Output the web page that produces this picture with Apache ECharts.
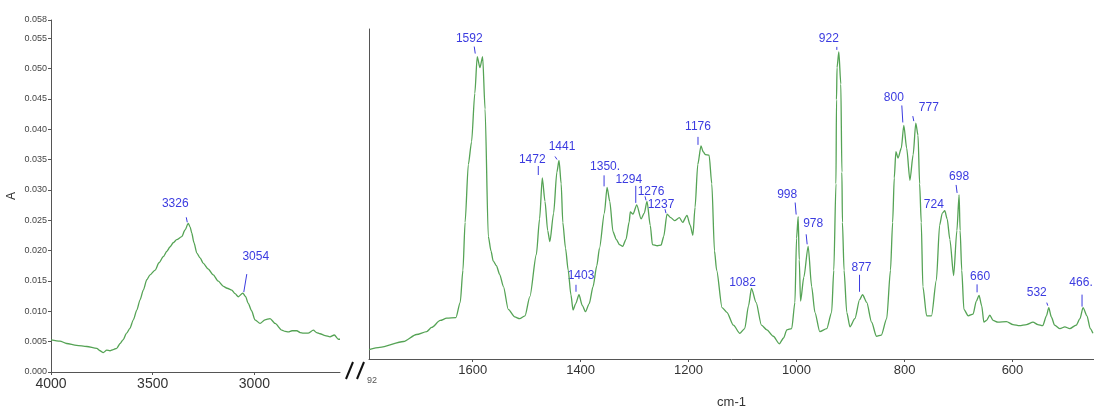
<!DOCTYPE html>
<html><head><meta charset="utf-8">
<script src="https://cdn.jsdelivr.net/npm/echarts@6/dist/echarts.min.js"></script>
<style>html,body{margin:0;padding:0;background:#fff}#c{width:1094px;height:414px}</style>
</head><body><div id="c"></div>
<script>
// ---- data ----
const leftWn = [4000,3956,3923,3874,3824,3775,3759,3743,3726,3710,3694,3677,3660,3646,3628,3612,3595,3578,3562,3546,3529,3513,3488,3469,3448,3430,3415,3399,3382,3357,3341,3325,3316,3308,3297,3283,3267,3251,3228,3202,3179,3152,3134,3111,3095,3079,3057,3043,3030,3014,2997,2972,2948,2923,2898,2865,2849,2833,2815,2791,2775,2759,2736,2710,2694,2677,2652,2628,2607,2587,2579];
const leftAbs = [0.0053,0.0051,0.0047,0.0044,0.0042,0.0039,0.0035,0.0032,0.0036,0.0035,0.0037,0.0039,0.0047,0.0053,0.0064,0.0072,0.0086,0.0102,0.0119,0.0135,0.0152,0.0160,0.0168,0.0180,0.0190,0.0199,0.0206,0.0213,0.0218,0.0223,0.0234,0.0245,0.0239,0.0229,0.0213,0.0196,0.0188,0.0179,0.0170,0.0160,0.0150,0.0141,0.0138,0.0135,0.0129,0.0124,0.0130,0.0124,0.0113,0.0101,0.0086,0.0080,0.0086,0.0088,0.0080,0.0069,0.0067,0.0066,0.0068,0.0068,0.0065,0.0064,0.0064,0.0069,0.0065,0.0063,0.0060,0.0058,0.0061,0.0054,0.0054];

const rightWn = [1792,1772,1728,1704,1685,1676,1660,1648,1631,1623,1618,1614,1608,1602,1596,1591.5,1586.5,1581.5,1577,1571,1566,1562,1556,1550,1543,1534,1522,1513,1503,1494,1482,1476,1471,1466,1461,1457,1450,1444,1440,1436,1433,1428,1423,1418,1414,1409,1403,1397,1391,1384,1377,1370,1365,1356,1351,1346,1340,1334,1328,1322,1316,1310,1308,1303,1296,1288,1282,1277,1271,1267,1258,1251,1246,1240,1233,1226,1217,1211,1203,1197,1192,1188,1183,1177,1173,1169,1162,1157,1152,1148,1138,1129,1117,1105,1096,1089,1083.5,1075,1065,1055,1043,1032,1024,1018,1009,1003,1000,997,995,992.6,986.5,978.5,972,966,957,944,935,931,927,926,925,921.7,918,916,915,912,907,901,892,883,877.8,870,861,852,843,833,826,822,819,816,812,806,801.3,796,790,784,779.1,775,772,769,766,759,750,741,735,730,725.4,721,716,709,703,698.9,697,694,690,682,673,667,661.9,657,653,648,642,636,627,611,599,587,574,562,553,544,537,532.8,528,522,512,503,494,482,475,469.3,462,456,451];
const rightAbs = [0.0016,0.0020,0.0030,0.0042,0.0047,0.0054,0.0066,0.0070,0.0071,0.0097,0.0152,0.0234,0.0333,0.0372,0.0455,0.0518,0.0499,0.0518,0.0428,0.0210,0.0185,0.0168,0.0160,0.0145,0.0124,0.0085,0.0072,0.0069,0.0074,0.0107,0.0179,0.0240,0.0310,0.0270,0.0220,0.0201,0.0250,0.0320,0.0340,0.0300,0.0234,0.0190,0.0152,0.0110,0.0084,0.0095,0.0110,0.0092,0.0081,0.0095,0.0124,0.0160,0.0190,0.0250,0.0294,0.0270,0.0218,0.0205,0.0196,0.0193,0.0205,0.0235,0.0252,0.0248,0.0264,0.0240,0.0250,0.0270,0.0229,0.0196,0.0194,0.0195,0.0210,0.0248,0.0242,0.0237,0.0242,0.0234,0.0246,0.0229,0.0212,0.0260,0.0333,0.0365,0.0355,0.0350,0.0349,0.0300,0.0185,0.0152,0.0088,0.0080,0.0058,0.0044,0.0052,0.0091,0.0121,0.0097,0.0058,0.0050,0.0039,0.0026,0.0036,0.0050,0.0052,0.0097,0.0207,0.0244,0.0170,0.0099,0.0140,0.0193,0.0124,0.0080,0.0047,0.0052,0.0080,0.0152,0.0300,0.0444,0.0499,0.0526,0.0471,0.0320,0.0234,0.0152,0.0080,0.0055,0.0069,0.0102,0.0110,0.0097,0.0063,0.0039,0.0041,0.0069,0.0152,0.0234,0.0310,0.0355,0.0344,0.0361,0.0400,0.0361,0.0306,0.0350,0.0404,0.0383,0.0300,0.0234,0.0124,0.0074,0.0074,0.0135,0.0229,0.0250,0.0254,0.0240,0.0205,0.0143,0.0220,0.0281,0.0220,0.0152,0.0085,0.0074,0.0077,0.0099,0.0109,0.0091,0.0063,0.0066,0.0075,0.0066,0.0063,0.0064,0.0059,0.0057,0.0059,0.0063,0.0059,0.0057,0.0074,0.0088,0.0072,0.0058,0.0052,0.0055,0.0052,0.0058,0.0069,0.0088,0.0074,0.0052,0.0044];

const leftPeakLabels = ['3326','3054'];
const leftPeakWn = [3325,3057];
const leftPeakAbs = [0.0245,0.0130];
const rightPeakLabels = ['1592','1472','1441','1403','1350.','1294','1276','1237','1176','1082','998','978','922','877','800','777','724','698','660','532','466.'];
const rightPeakWn = [1591.5,1471,1440,1403,1351,1296,1277,1240,1177,1083.5,997,978.5,921.7,877.8,801.3,779.1,725.4,698.9,661.9,532.8,469.3];
const rightPeakAbs = [0.0518,0.0310,0.0340,0.0110,0.0294,0.0264,0.0270,0.0248,0.0365,0.0121,0.0244,0.0193,0.0526,0.0110,0.0400,0.0404,0.0254,0.0281,0.0109,0.0088,0.0088];

const yTicks = [0,0.005,0.010,0.015,0.020,0.025,0.030,0.035,0.040,0.045,0.050,0.055,0.058];
const leftXTicks = [4000,3500,3000];
const rightXTicks = [1600,1400,1200,1000,800,600];

// ---- styling (pixel offsets of annotation text / leader lines relative to the peak) ----
const leftOffsets = [[-13,-20,-2,-6,-1,-1],[13,-36,4,-19,1,-1]];
const rightOffsets = [
 [-8,-18,-3,-10,-2,-3],[-10,-18,-4,-12,-4,-3],[3,-14,-4,-4,-2,-1],[2,-19,-3,-10,-3,-3],
 [-2,-21,-3,-12,-3,-1],[-8,-25,-1,-19,-1,-2],[4,-10,-2,-5,-1,-1],[-6,-10,-2,-5,-1,-1],
 [-3,-19,-3,-9,-3,-1],[-9,-6,0,0,0,0],[-11,-22,-3,-14,-2,-2],[5,-23,-2,-12,-1,-2],
 [-10,-13,-2,-5,-2,-2],[-1,-27,-3,-20,-3,-3],[-10,-28,-2,-20,-1,-3],[13,-15,-3,-7,-2,-2],
 [-11,-6,0,0,0,0],[0,-18,-3,-10,-2,-2],[1,-19,-2,-11,-2,-3],[-12,-15,-2,-5,-1,-2],[-2,-25,-1,-13,-1,-1]
];

const FONT = 'Liberation Sans, Arial, sans-serif';
const GREEN = '#55a355';
const BLUE = '#3b3be0';
const AXIS = '#555';

function zip(a,b){return a.map((v,i)=>[v,b[i]]);}
function annot(labels, offsets){
  return function(params, api){
    const i = params.dataIndex;
    const p = api.coord([api.value(0), api.value(1)]);
    const o = offsets[i];
    const ch = [];
    if (o[2]!==o[4] || o[3]!==o[5]) ch.push({type:'line', shape:{x1:p[0]+o[2],y1:p[1]+o[3],x2:p[0]+o[4],y2:p[1]+o[5]}, style:{stroke:BLUE,lineWidth:1}});
    ch.push({type:'text', x:p[0]+o[0], y:p[1]+o[1], style:{text:labels[i], fill:BLUE, font:'12px '+FONT, align:'center', verticalAlign:'middle'}});
    return {type:'group', children:ch};
  };
}

const chart = echarts.init(document.getElementById('c'), null, {renderer:'canvas'});
chart.setOption({
  animation:false,
  backgroundColor:'#fff',
  grid:[
    {left:51, top:20, width:289, height:352},
    {left:369, top:29, width:725, height:343}
  ],
  xAxis:[
    {type:'value', gridIndex:0, inverse:true, min:2579, max:4000,
     axisLine:{lineStyle:{color:AXIS}}, axisTick:{customValues:leftXTicks, length:3, lineStyle:{color:AXIS}},
     axisLabel:{customValues:leftXTicks, color:'#333', fontSize:14, fontFamily:FONT, margin:5, formatter:v=>String(v)},
     splitLine:{show:false}},
    {type:'value', gridIndex:1, inverse:true, min:449, max:1792,
     name:'cm-1', nameLocation:'middle', nameGap:37, nameTextStyle:{color:'#333', fontSize:13, fontFamily:FONT},
     axisLine:{lineStyle:{color:AXIS}}, axisTick:{customValues:rightXTicks, length:3, lineStyle:{color:AXIS}},
     axisLabel:{customValues:rightXTicks, color:'#333', fontSize:13, fontFamily:FONT, margin:5, formatter:v=>String(v)},
     splitLine:{show:false}}
  ],
  yAxis:[
    {type:'value', gridIndex:0, min:0, max:0.058,
     name:'A', nameLocation:'middle', nameGap:33, nameRotate:90, nameTextStyle:{color:'#333', fontSize:12, fontFamily:FONT},
     axisLine:{show:true, lineStyle:{color:AXIS}}, axisTick:{show:true, customValues:yTicks, length:3, lineStyle:{color:AXIS}},
     axisLabel:{customValues:yTicks, color:'#444', fontSize:9, fontFamily:FONT, margin:4, formatter:v=>v.toFixed(3)},
     splitLine:{show:false}},
    {type:'value', gridIndex:1, min:0, max:0.05652,
     axisLine:{show:true, lineStyle:{color:AXIS}}, axisTick:{show:false}, axisLabel:{show:false}, splitLine:{show:false}}
  ],
  series:[
    {type:'line', xAxisIndex:0, yAxisIndex:0, data:zip(leftWn,leftAbs), showSymbol:false, symbol:'none',
     smooth:0.25, smoothMonotone:'x', lineStyle:{color:GREEN, width:1.3}, silent:true},
    {type:'line', xAxisIndex:1, yAxisIndex:1, data:zip(rightWn,rightAbs), showSymbol:false, symbol:'none',
     smooth:0.25, smoothMonotone:'x', lineStyle:{color:GREEN, width:1.3}, silent:true},
    {type:'custom', xAxisIndex:0, yAxisIndex:0, data:zip(leftPeakWn,leftPeakAbs), renderItem:annot(leftPeakLabels,leftOffsets), clip:false, silent:true},
    {type:'custom', xAxisIndex:1, yAxisIndex:1, data:zip(rightPeakWn,rightPeakAbs), renderItem:annot(rightPeakLabels,rightOffsets), clip:false, silent:true}
  ],
  graphic:[
    {type:'line', shape:{x1:346,y1:379,x2:353,y2:362}, style:{stroke:'#111', lineWidth:2}},
    {type:'line', shape:{x1:357,y1:379,x2:364,y2:362}, style:{stroke:'#111', lineWidth:2}},
    {type:'text', left:367, top:376, style:{text:'92', fill:'#555', font:'9px '+FONT}}
  ]
});
</script>
</body></html>
